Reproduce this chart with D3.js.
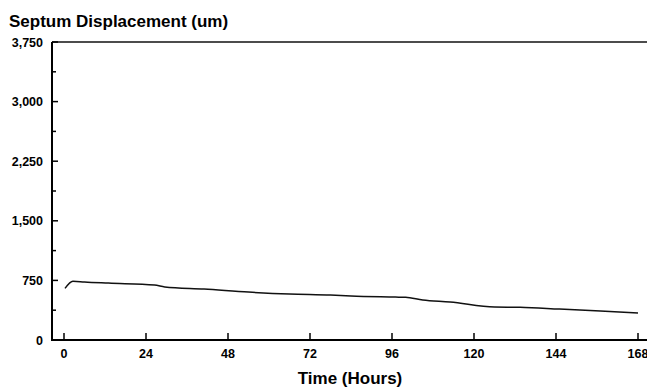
<!DOCTYPE html>
<html>
<head>
<meta charset="utf-8">
<script src="https://cdn.jsdelivr.net/npm/d3@7"></script>
<style>
	body { margin: 0; background: #fff; }
	svg { display: block; font-family: "Liberation Sans", Arial, sans-serif; }
</style>
</head>
<body>
<div id="chart"></div>
<script>
	// DATA
	const hours = [0.3, 2.6, 6, 13, 26.5, 29.5, 41, 54, 66, 78, 84, 97, 100, 105, 113, 126, 133.5, 145, 157, 168];
	const displacement = [650, 740, 730, 716, 692, 668, 641, 603, 578, 565, 553, 540, 537, 503, 478, 415, 412, 389, 364, 339];
	const xTicks = [0, 24, 48, 72, 96, 120, 144, 168];
	const yTicks = [0, 750, 1500, 2250, 3000, 3750];
	const yMinorTicks = [375, 1125, 1875, 2625, 3375];

	const width = 647, height = 389;
	const svg = d3.select("#chart").append("svg")
		.attr("width", width).attr("height", height);

	const xScale = d3.scaleLinear().domain([0, 168]).range([64, 638]);
	const yScale = d3.scaleLinear().domain([0, 3750]).range([340, 42]);
	const axisLeftX = 52;

	// title
	svg.append("text")
		.attr("x", 9).attr("y", 27)
		.attr("font-size", 17).attr("font-weight", "bold").attr("fill", "#000")
		.text("Septum Displacement (um)");

	// frame: top line
	svg.append("line")
		.attr("x1", axisLeftX).attr("x2", width)
		.attr("y1", yScale(3750)).attr("y2", yScale(3750))
		.attr("stroke", "#111").attr("stroke-width", 1.5);

	// Y axis
	const yAxisG = svg.append("g").attr("transform", `translate(${axisLeftX},0)`);
	yAxisG.append("line")
		.attr("y1", yScale(0) + 1).attr("y2", yScale(3750))
		.attr("stroke", "#000").attr("stroke-width", 2);
	yAxisG.selectAll(".major").data(yTicks).enter().append("line")
		.attr("x1", 0).attr("x2", 6)
		.attr("y1", d => yScale(d)).attr("y2", d => yScale(d))
		.attr("stroke", "#000").attr("stroke-width", 1.5);
	yAxisG.selectAll(".minor").data(yMinorTicks).enter().append("line")
		.attr("x1", 0).attr("x2", 4)
		.attr("y1", d => yScale(d)).attr("y2", d => yScale(d))
		.attr("stroke", "#000").attr("stroke-width", 1.5);
	yAxisG.selectAll("text").data(yTicks).enter().append("text")
		.attr("x", -9).attr("y", d => yScale(d) + 4.5)
		.attr("text-anchor", "end")
		.attr("font-size", 12.5).attr("font-weight", "bold")
		.text(d => d3.format(",")(d));

	// X axis
	const xAxisG = svg.append("g").attr("transform", `translate(0,${yScale(0)})`);
	xAxisG.append("line")
		.attr("x1", axisLeftX - 1).attr("x2", width)
		.attr("stroke", "#000").attr("stroke-width", 2);
	xAxisG.selectAll(".tick").data(xTicks).enter().append("line")
		.attr("x1", d => xScale(d)).attr("x2", d => xScale(d))
		.attr("y1", 0).attr("y2", -7)
		.attr("stroke", "#000").attr("stroke-width", 1.5);
	xAxisG.selectAll("text").data(xTicks).enter().append("text")
		.attr("x", d => xScale(d)).attr("y", 18)
		.attr("text-anchor", "middle")
		.attr("font-size", 12.5).attr("font-weight", "bold")
		.text(d => d);

	svg.append("text")
		.attr("x", 350).attr("y", 384)
		.attr("text-anchor", "middle")
		.attr("font-size", 17).attr("font-weight", "bold").attr("fill", "#000")
		.text("Time (Hours)");

	// line
	const line = d3.line()
		.x((d, i) => xScale(hours[i]))
		.y(d => yScale(d))
		.curve(d3.curveMonotoneX);
	svg.append("path")
		.datum(displacement)
		.attr("d", line)
		.attr("fill", "none")
		.attr("stroke", "#111")
		.attr("stroke-width", 1.5);
</script>
</body>
</html>
